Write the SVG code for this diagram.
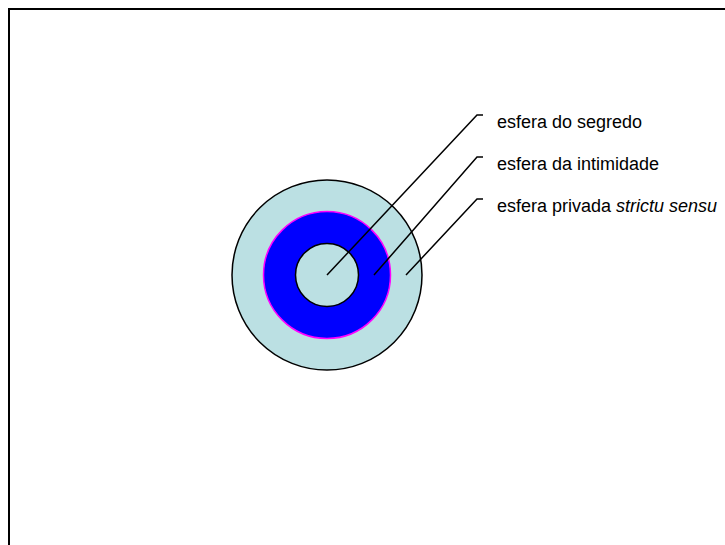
<svg xmlns="http://www.w3.org/2000/svg" width="725" height="545" viewBox="0 0 725 545">
<style>
.lbl{font-family:"Liberation Sans",Arial,sans-serif;font-size:18px;fill:#000}
.ring{stroke:#000;stroke-width:1.5}
.conn{stroke:#000;stroke-width:1.5;fill:none}
</style>
<rect x="0" y="0" width="725" height="545" fill="#fff"/>
<rect id="frame" x="9" y="9" width="740" height="560" fill="none" stroke="#000" stroke-width="2"/>
<g id="outer"><circle cx="327" cy="275" r="95" fill="#BBE0E3" class="ring"/></g>
<g id="middle"><circle cx="327" cy="275" r="63.5" fill="#0000FF" stroke="#FF00FF" stroke-width="1.5"/></g>
<g id="inner"><circle cx="327" cy="275" r="31.5" fill="#BBE0E3" class="ring"/></g>
<g id="connectors">
<polyline class="conn" points="327,275 477,115 483,115"/>
<polyline class="conn" points="374,275 477,157 483,157"/>
<polyline class="conn" points="406,275 477,199 483,199"/>
</g>
<g id="label1"><text class="lbl" x="497" y="128">esfera do segredo</text></g>
<g id="label2"><text class="lbl" x="497" y="170">esfera da intimidade</text></g>
<g id="label3"><text class="lbl" x="497" y="212">esfera privada <tspan font-style="italic">strictu sensu</tspan></text></g>
</svg>
